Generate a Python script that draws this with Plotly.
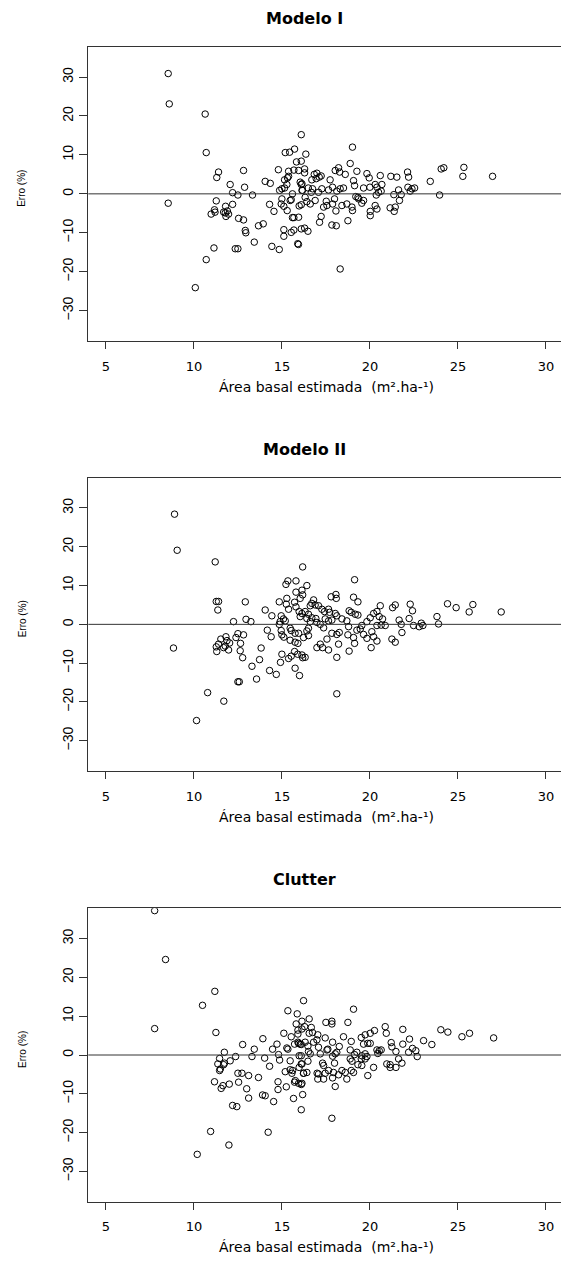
import plotly.graph_objects as go

# ---------------- data ----------------
panel_titles = ["Modelo I", "Modelo II", "Clutter"]
x_title = "Área basal estimada  (m².ha-¹)"
y_title = "Erro (%)"
x_ticks = [5, 10, 15, 20, 25, 30]
y_ticks = [-30, -20, -10, 0, 10, 20, 30]

m1_x = [8.54, 8.6, 10.64, 10.7, 8.54, 10.08, 10.7, 11.14, 11.4, 11.3, 11.27, 10.98, 11.2, 11.17,
        11.8, 11.69, 11.78, 11.9, 11.97, 11.82, 12.06, 12.2, 12.2, 12.5, 12.82, 12.88, 12.54, 12.82,
        12.92, 12.95, 12.35, 12.5, 13.33, 13.43, 13.67, 13.94, 14.05, 14.34, 14.3, 14.55, 14.43, 14.85,
        14.8, 14.87, 15.0, 15.15, 15.0, 14.96, 15.11, 15.3, 15.11, 15.11, 15.53, 15.68, 15.19, 15.44,
        15.72, 15.83, 16.1, 16.1, 15.38, 15.68, 15.32, 15.38, 15.15, 15.28, 15.6, 15.47, 15.53, 15.6,
        15.68, 15.95, 15.98, 16.04, 16.1, 16.14, 15.9, 15.94, 16.1,
        16.36, 16.29, 16.29, 15.95, 16.84, 16.99, 17.12, 17.23, 16.95, 16.7, 16.14, 16.17, 16.5, 16.74,
        16.67, 17.08, 17.27, 17.65, 17.88, 18.12, 18.31, 18.5, 17.74, 18.03, 18.22, 18.28, 18.6, 19.01,
        18.88, 19.26, 19.07, 19.13, 19.64, 19.83, 19.96, 20.0, 20.3, 20.59, 20.4, 20.68, 20.49, 20.64,
        20.36, 21.19, 21.53, 22.14, 22.2, 21.63, 22.16, 22.39, 22.54, 22.29, 21.78, 21.68, 21.36, 21.15,
        21.44, 21.38, 23.43, 23.96, 24.05, 24.2, 25.34, 25.28, 26.97, 18.31, 18.75, 17.84, 18.09, 17.14,
        17.23, 16.89, 16.61, 16.42, 16.1, 16.32, 16.29, 16.48, 17.37, 17.56, 17.52, 17.88, 18.07, 17.99,
        18.41, 18.69, 18.98, 19.01, 19.2, 19.36, 19.54, 19.64, 20.02, 20.02, 20.3, 20.4, 19.32]
m1_y = [30.9, 23.1, 20.5, 10.6, -2.4, -24.1, -16.9, -13.9, 5.6, 4.2, -1.8, -5.2, -4.7, -4.1,
        -3.2, -4.7, -4.9, -4.4, -5.2, -5.8, 2.4, -2.7, 0.3, -0.3, 6.0, 1.7, -6.3, -6.7,
        -9.4, -10.0, -14.1, -14.1, -0.3, -12.4, -8.2, -7.7, 3.2, 2.7, -2.7, -4.5, -13.5, -14.3,
        6.2, 0.9, 1.3, 1.5, -1.3, -2.6, -3.2, -4.3, -9.2, -10.9, -9.9, -9.3, 10.6, 10.7,
        11.5, 8.2, 8.4, 15.2, 5.8, 6.1, 4.1, 4.5, 3.6, 2.4, 0.0, -1.7, -1.5, -6.1,
        -6.1, -6.0, -3.1, 3.0, 2.4, 0.9, -12.8, -13.0, -9.0,
        10.2, 6.4, 5.4, 6.0, 5.0, 5.3, 4.3, 4.6, 3.9, 3.6, 2.6, 0.9, 1.5, 1.3,
        0.4, 0.4, 1.3, 1.0, 1.7, 0.7, 1.3, 1.5, 3.6, 6.0, 6.7, 5.6, 5.0, 12.0,
        7.8, 5.8, 3.4, 2.1, 1.5, 5.2, 4.1, 1.7, 2.4, 4.7, 1.7, 2.4, 0.4, 0.7,
        -0.3, 4.5, 4.3, 5.6, 4.3, 1.0, 1.7, 1.3, 1.5, 0.7, -0.2, -1.7, -0.2, -3.6,
        -3.4, -4.5, 3.2, -0.3, 6.4, 6.7, 6.8, 4.5, 4.5, -19.3, -6.9, -8.0, -8.2, -7.3,
        -5.8, -1.7, -2.6, -2.0, -2.8, -0.9, -8.8, -9.6, -3.4, -3.0, -1.9, -2.6, -4.4, -1.3,
        -3.0, -2.6, -3.4, -4.3, -0.7, -1.3, -2.4, -1.7, -4.5, -5.6, -3.0, -3.9, -0.9]

m2_x = [8.9, 9.05, 8.84, 10.15, 10.78, 11.21, 11.27, 11.4, 11.36, 11.7, 12.25, 12.5, 12.39, 12.65,
        12.82, 12.63, 12.77, 12.5, 12.58, 12.92, 12.96, 13.24, 11.3, 11.27, 11.4, 11.53, 11.69, 11.82,
        11.88, 11.97, 11.78, 12.03, 13.3, 13.56, 13.73, 13.82, 14.05, 14.17, 14.39, 14.43, 14.3, 14.68,
        14.85, 14.85, 14.9, 14.96, 15.09, 15.19, 14.96, 15.0, 15.11, 15.47, 15.53, 15.75, 15.47, 15.75,
        14.92, 15.0, 15.38, 15.53, 15.72, 15.9, 15.75, 16.0, 15.23, 15.34, 15.8, 15.8, 16.14, 16.18,
        15.28, 15.25, 15.38, 15.72, 15.8, 16.04, 15.98, 16.04, 16.14, 16.18, 16.18,
        16.42, 16.8, 16.7, 16.89, 17.08, 16.61, 16.32, 16.51, 16.42, 16.7, 16.93, 17.27, 17.42, 17.65,
        17.71, 17.8, 18.07, 18.09, 19.07, 19.32, 19.13, 18.82, 18.94, 19.17, 19.32, 18.03, 18.12, 18.41,
        18.69, 17.46, 17.65, 17.84, 16.99, 17.18, 17.37, 16.61, 16.51, 16.42, 15.95, 16.23, 16.51, 15.91,
        17.18, 16.99, 17.31, 17.65, 17.56, 17.84, 18.12, 18.22, 18.26, 18.79, 18.75, 19.07, 19.13, 18.82,
        18.12, 18.12, 19.26, 19.45, 19.54, 19.64, 19.83, 20.07, 20.11, 20.21, 20.4, 19.83, 20.02, 20.21,
        20.4, 20.59, 20.53, 20.72, 20.64, 20.87, 20.4, 21.29, 21.44, 21.25, 21.44, 21.66, 21.78, 21.82,
        22.29, 22.42, 22.23, 22.48, 22.8, 22.92, 23.01, 23.81, 23.9, 24.41, 24.9, 25.64, 25.85, 27.46,
        16.32, 16.14]
m2_y = [28.4, 19.1, -6.1, -24.8, -17.6, 16.1, 5.9, 5.9, 3.7, -19.8, 0.7, -2.4, -3.4, -4.9,
        -2.7, -6.8, -8.6, -14.8, -14.8, 5.8, 1.3, 0.7, -7.0, -5.8, -5.1, -3.8, -6.0, -3.2,
        -4.2, -6.6, -5.6, -4.8, -10.8, -14.1, -9.1, -6.1, 3.7, -1.5, -3.2, 2.2, -11.9, -12.9,
        5.8, 0.0, 0.7, 2.2, 1.4, 0.9, -1.6, -2.7, -3.3, -1.0, -1.6, -2.3, -4.1, -4.6,
        -9.8, -7.7, -8.8, -8.2, -7.0, -7.7, -11.3, -13.2, 10.3, 11.2, 11.2, 8.3, 8.8, 14.8,
        6.7, 5.2, 3.9, 5.7, 4.5, 6.7, 3.3, 2.0, 2.8, 7.6, -8.6,
        10.0, 6.3, 5.4, 5.0, 4.8, 4.8, 3.3, 2.6, 1.5, 1.7, 1.5, 3.9, 3.3, 3.9,
        3.1, 7.1, 7.7, 6.7, 7.0, 5.8, 11.5, 3.5, 3.1, 2.6, 2.4, 2.8, 2.2, 1.4,
        0.9, 1.4, 0.9, 1.1, 0.5, 0.0, -0.9, 0.7, -1.0, -1.7, -2.3, -3.4, -2.9, -4.9,
        -5.1, -6.0, -6.0, -6.6, -3.8, -2.3, -2.6, -5.1, -2.1, -0.6, -2.7, -3.4, -4.9, -6.9,
        -8.5, -17.9, -1.5, -1.2, -0.3, -2.6, -3.6, -6.0, -1.9, -3.2, -4.3, 0.7, 1.7, 2.8,
        3.3, 4.8, 2.0, 1.4, -0.2, -0.3, -0.3, 4.3, 5.0, -3.8, -4.6, 1.1, 0.0, -2.1,
        5.2, 3.5, 1.5, -0.3, -0.6, 0.3, -0.3, 2.0, 0.1, 5.3, 4.3, 3.2, 5.1, 3.2,
        -8.5, -7.9]

cl_x = [7.77, 8.39, 7.77, 10.49, 11.19, 11.25, 10.19, 10.95, 11.99, 14.22, 11.73, 11.46, 11.36, 11.5,
        11.46, 11.69, 11.74, 12.06, 12.37, 11.17, 11.55, 11.65, 12.01, 12.54, 12.5, 12.73, 12.77, 13.11,
        13.0, 13.11, 12.2, 12.44, 13.3, 13.43, 13.67, 13.92, 14.02, 13.9, 14.05, 14.3, 14.53, 14.47,
        14.72, 14.81, 14.78, 14.78, 14.87, 15.11, 15.28, 15.34, 15.19, 15.25, 15.47, 15.47, 15.53, 15.66,
        15.76, 15.57, 15.61, 15.72, 15.34, 15.87, 15.81, 15.91, 16.14, 16.23, 15.72, 15.91, 16.04, 16.1,
        16.1, 16.14, 16.18, 16.1, 16.23,
        19.07, 16.55, 16.29, 16.67, 16.14, 16.74, 16.55, 15.91, 17.04, 17.5, 17.84, 17.84, 18.75, 17.46,
        16.99, 16.8, 16.32, 15.95, 16.1, 16.48, 17.08, 17.88, 18.26, 18.5, 18.94, 19.51, 19.73, 20.02,
        20.26, 19.88, 20.02, 19.64, 20.87, 20.93, 21.21, 21.25, 21.48, 21.87, 21.87, 22.25, 22.42, 22.61,
        22.2, 22.69, 23.05, 23.52, 24.03, 24.43, 25.23, 25.66, 27.03, 17.56, 17.61, 18.03, 17.88, 18.12,
        17.18, 16.51, 16.61, 15.98, 18.88, 19.26, 19.13, 19.54, 19.73, 19.83, 20.4, 20.53, 20.64, 20.45,
        18.88, 18.98, 19.51, 19.73, 17.31, 17.37, 17.99, 16.48, 16.14, 15.98, 16.23, 16.42, 17.0, 17.08,
        17.46, 17.65, 17.93, 18.22, 18.41, 18.6, 18.94, 19.07, 19.54, 20.21, 19.88, 18.69, 17.88, 17.04,
        17.37, 18.03, 20.96, 21.15, 21.48, 21.15, 21.63, 21.82, 17.84, 16.1, 15.95, 19.32]
cl_y = [37.2, 24.6, 6.8, 12.8, 16.4, 5.8, -25.6, -19.7, -23.2, -19.9, 0.7, -0.9, -2.3, -3.6,
        -4.0, -2.5, -2.1, -1.5, -0.4, -6.9, -8.6, -7.9, -7.5, -7.0, -4.7, -4.7, 2.7, -5.3,
        -8.7, -11.1, -13.0, -13.3, -0.4, 1.5, -5.8, 4.2, -0.8, -10.3, -10.5, -2.9, -12.0, 1.5,
        2.8, 0.1, -6.9, -8.9, -1.3, 5.6, 1.8, 1.5, -4.3, -8.2, -1.5, -3.8, 4.7, -11.2,
        -6.6, -4.7, -4.0, -7.0, 11.4, 10.6, 8.0, 6.4, 8.7, 14.0, 2.8, 3.3, 2.8, -0.2,
        -2.3, -7.3, -10.2, -14.1, -4.7,
        11.8, 9.3, 7.3, 7.1, 6.7, 5.8, 5.6, 5.4, 5.2, 8.4, 8.7, 8.0, 8.4, 4.4,
        3.9, 3.3, 3.3, 3.0, 2.7, 2.3, 2.0, 3.3, 2.2, 4.7, 3.5, 4.5, 5.2, 5.6,
        6.3, 3.0, 3.0, 2.8, 7.3, 5.6, 3.2, 2.1, 0.9, 6.6, 2.8, 4.1, 1.7, 1.1,
        0.7, -0.4, 3.7, 2.7, 6.5, 5.9, 4.7, 5.6, 4.4, 1.3, 1.5, 0.3, -0.3, 0.7,
        0.3, 0.9, 0.3, -0.2, 1.3, 0.7, 0.1, -0.2, 0.3, -0.4, 1.3, 1.1, 1.3, 0.4,
        -1.0, -1.6, -1.0, -1.0, -2.1, -2.7, -2.1, -1.6, -2.3, -3.2, -4.7, -4.5, -4.7, -4.9,
        -4.7, -4.0, -4.5, -5.1, -4.0, -4.5, -4.0, -4.5, -2.7, -3.2, -5.3, -6.2, -5.9, -6.2,
        -6.2, -8.1, -2.3, -2.5, -3.2, -3.2, -1.0, -2.1, -16.3, -7.6, -7.3, -2.5]

panels = [(m1_x, m1_y), (m2_x, m2_y), (cl_x, cl_y)]

# ---------------- layout geometry ----------------
W, H = 561, 1268
left_px = 88.3
px_per_unit = 17.6
x_range = [4, 4 + (W - left_px) / px_per_unit]
y_range = [-37.8, 37.8]
box_tops = [46.7, 477.7, 908.3]
box_bottoms = [341.0, 771.0, 1201.7]

axis_col = "#333333"
fig = go.Figure()
annotations = []
shapes = []

for i, ((xs, ys), title) in enumerate(zip(panels, panel_titles)):
    n = "" if i == 0 else str(i + 1)
    fig.add_trace(go.Scatter(
        x=xs, y=ys, mode="markers", xaxis="x" + n, yaxis="y" + n,
        marker=dict(symbol="circle-open", size=6.5, color="black", line=dict(width=1, color="black")),
        showlegend=False, hoverinfo="skip"))
    dom = [1 - box_bottoms[i] / H, 1 - box_tops[i] / H]
    fig.update_layout(**{
        "xaxis" + n: dict(domain=[left_px / W, 1], range=x_range, anchor="y" + n,
                          tickvals=x_ticks, ticks="outside", ticklen=7, tickwidth=1,
                          tickcolor=axis_col, showline=True, mirror=True, linecolor=axis_col,
                          linewidth=1, showgrid=False, zeroline=False,
                          tickfont=dict(family="DejaVu Sans", size=13, color="black"),
                          ticklabelstandoff=6),
        "yaxis" + n: dict(domain=dom, range=y_range, anchor="x" + n,
                          tickvals=y_ticks, ticks="outside", ticklen=8, tickwidth=1,
                          tickcolor=axis_col, showline=True, linecolor=axis_col, linewidth=1,
                          showgrid=False, zeroline=False, tickangle=-90,
                          tickfont=dict(family="Liberation Sans", size=14, color="black"),
                          ticklabelstandoff=1),
    })
    # zero reference line
    shapes.append(dict(type="line", xref="x" + n + " domain", yref="y" + n,
                       x0=0, x1=1, y0=0, y1=0, line=dict(color=axis_col, width=1)))
    # panel title
    annotations.append(dict(text="<b>" + title + "</b>", x=304 / W, y=1 - (box_tops[i] - 28.7) / H,
                            xref="paper", yref="paper", showarrow=False, xanchor="center",
                            yanchor="middle", font=dict(family="DejaVu Sans", size=16, color="black")))
    # x-axis title
    annotations.append(dict(text=x_title, x=326 / W, y=1 - (box_bottoms[i] + 45.5) / H,
                            xref="paper", yref="paper", showarrow=False, xanchor="center",
                            yanchor="middle", font=dict(family="DejaVu Sans", size=14, color="black")))
    # y-axis title
    annotations.append(dict(text=y_title, x=22 / W, y=1 - ((box_tops[i] + box_bottoms[i]) / 2 - 5) / H,
                            xref="paper", yref="paper", showarrow=False, xanchor="center",
                            yanchor="middle", textangle=-90,
                            font=dict(family="Liberation Sans", size=10, color="black")))

fig.update_layout(width=W, height=H, margin=dict(l=0, r=0, t=0, b=0),
                  paper_bgcolor="white", plot_bgcolor="white",
                  annotations=annotations, shapes=shapes)

fig.write_html("out.html")
